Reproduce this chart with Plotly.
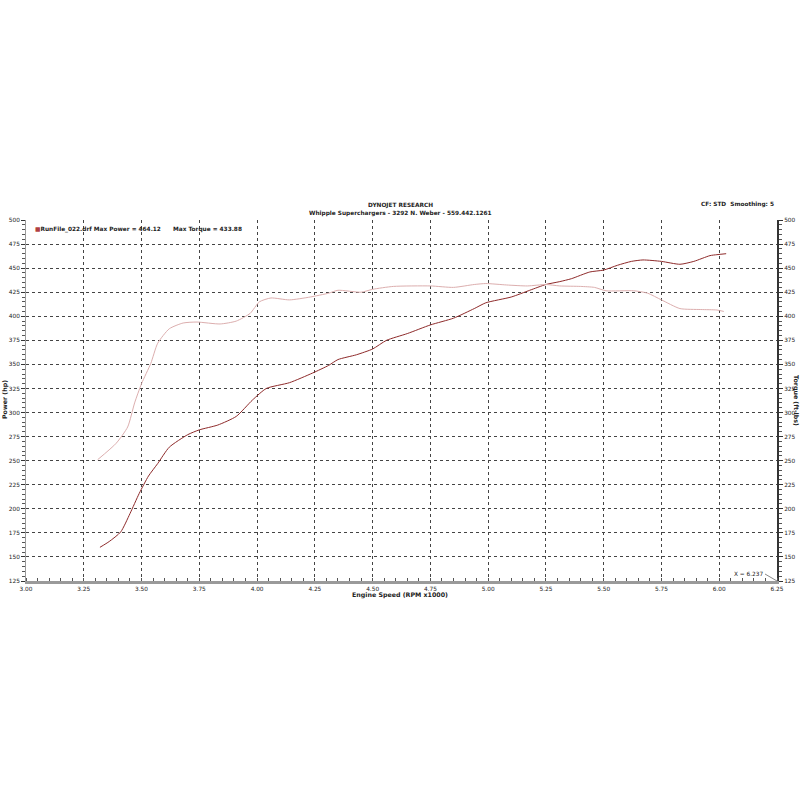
import plotly.graph_objects as go

# Power (hp) vs engine speed (RPM x1000)
power_rpm = [3.32, 3.36, 3.41, 3.45, 3.49, 3.53, 3.57, 3.62, 3.70, 3.75, 3.83, 3.91, 3.98, 4.04, 4.14,
             4.24, 4.31, 4.35, 4.43, 4.50, 4.56, 4.65, 4.75, 4.85, 4.94, 4.99, 5.10, 5.18, 5.25, 5.31,
             5.36, 5.44, 5.50, 5.56, 5.62, 5.67, 5.75, 5.83, 5.89, 5.96, 5.99, 6.03]
power_hp = [160, 166, 176, 195, 216, 234, 247, 264, 277, 282, 287, 296, 313, 325, 331,
            341, 349, 355, 360, 366, 375, 382, 391, 398, 408, 414, 420, 427, 433, 436,
            439, 446, 448, 453, 457, 458.5, 457, 454, 457, 463, 464, 465]

# Torque (ft-lbs) vs engine speed
torque_rpm = [3.31, 3.39, 3.44, 3.47, 3.50, 3.54, 3.57, 3.62, 3.68, 3.74, 3.84, 3.91, 3.97, 4.01, 4.06,
              4.14, 4.23, 4.31, 4.35, 4.45, 4.50, 4.59, 4.75, 4.85, 4.94, 4.99, 5.08, 5.17, 5.25, 5.31,
              5.40, 5.46, 5.51, 5.63, 5.69, 5.75, 5.83, 5.92, 5.99, 6.02]
torque_ftlb = [251, 268, 285, 310, 330, 351, 372, 387, 393, 394, 392, 395, 403, 415, 419,
               417, 420, 424, 427, 425, 428, 431, 431.5, 430, 433, 434, 432.5, 431.5, 433, 431.5,
               431, 430, 426.5, 426.5, 424, 417, 408, 407, 406.5, 405]

x_ticks = [3.00, 3.25, 3.50, 3.75, 4.00, 4.25, 4.50, 4.75, 5.00, 5.25, 5.50, 5.75, 6.00, 6.25]
y_ticks = [125, 150, 175, 200, 225, 250, 275, 300, 325, 350, 375, 400, 425, 450, 475, 500]

FONT = "DejaVu Sans"
FS = 5.8
GRID = "#444444"
W = H = 800
# plot area in window pixels: x 26..777, y 220..581
L, R, T, B = 26, W - 777, 220, H - 581
PH = H - T - B
PW = W - L - R


def py(pix):
    """paper y from window pixel row"""
    return (H - B - pix) / PH


def px(pix):
    return (pix - L) / PW


fig = go.Figure()
fig.add_trace(go.Scatter(x=power_rpm, y=power_hp, mode="lines",
                         line=dict(color="#8e2a2a", width=1, shape="spline", smoothing=0.6),
                         showlegend=False, yaxis="y"))
fig.add_trace(go.Scatter(x=torque_rpm, y=torque_ftlb, mode="lines",
                         line=dict(color="#dcaeae", width=1, shape="spline", smoothing=0.6),
                         showlegend=False, yaxis="y2"))

tickfont = dict(family=FONT, size=FS, color="#222")
minor_y = dict(ticks="outside", ticklen=3, tickcolor="#555", dtick=5)

fig.update_layout(
    width=W, height=H,
    paper_bgcolor="white", plot_bgcolor="white",
    margin=dict(l=L, r=R, t=T, b=B),
    font=dict(family=FONT, size=FS, color="#222"),
    xaxis=dict(range=[3.0, 6.25], tickvals=x_ticks, ticktext=[f"{v:.2f}" for v in x_ticks],
               showgrid=True, gridcolor=GRID, griddash="dot", gridwidth=1,
               showline=True, linecolor="#9a9a9a", linewidth=3, automargin=False,
               minor=dict(ticks="inside", ticklen=3, tickcolor="#555", dtick=0.05),
               tickfont=tickfont, ticks="outside", ticklen=0, tickcolor="#333", zeroline=False),
    yaxis=dict(range=[125, 500], tickvals=y_ticks, showgrid=True, gridcolor=GRID, griddash="dot", gridwidth=1,
               showline=True, linecolor="#999", linewidth=1, automargin=False,
               tickfont=tickfont, ticks="outside", ticklen=4, tickcolor="#333", minor=minor_y, zeroline=False),
    yaxis2=dict(range=[125, 500], tickvals=y_ticks, overlaying="y", side="right", showgrid=False,
                showline=True, linecolor="#333", linewidth=2, automargin=False,
                tickfont=tickfont, ticks="outside", ticklen=4, tickcolor="#333", minor=minor_y, zeroline=False),
)


def note(text, x, y, xref="paper", xanchor="center", angle=0, size=FS):
    fig.add_annotation(text=text, x=x, y=y, xref=xref, yref="paper", showarrow=False,
                       xanchor=xanchor, yanchor="middle", textangle=angle,
                       font=dict(family=FONT, size=size, color="#222"))


# Titles
note("<b>DYNOJET RESEARCH</b>", px(400), py(206))
note("<b>Whipple Superchargers - 3292 N. Weber - 559.442.1261</b>", px(400), py(214))
note("<b>CF: STD  Smoothing: 5</b>", px(776), py(204), xanchor="right")
# Axis titles
note("<b>Engine Speed (RPM x1000)</b>", px(400), py(595), size=6.3)
note("<b>Power (hp)</b>", px(5), py(400), angle=-90, size=6.3)
note("<b>Torque (ft-lbs)</b>", px(796), py(400), angle=90, size=6.3)
# Legend line
note("<span style='color:#b04040'>■</span><b>RunFile_022.drf Max Power = 464.12      Max Torque = 433.88</b>",
     px(33), py(230), xanchor="left")
# Cursor annotation
fig.add_annotation(text="X = 6.237", x=6.25, y=125, xref="x", yref="y", ax=-12, ay=-7, showarrow=True,
                   arrowhead=0, arrowwidth=0.7, arrowcolor="#555", xanchor="right",
                   font=dict(family=FONT, size=FS, color="#222"))

fig.write_html("out.html", config={"displayModeBar": False},
               post_script="document.body.style.margin='0';document.body.style.overflow='hidden';")
